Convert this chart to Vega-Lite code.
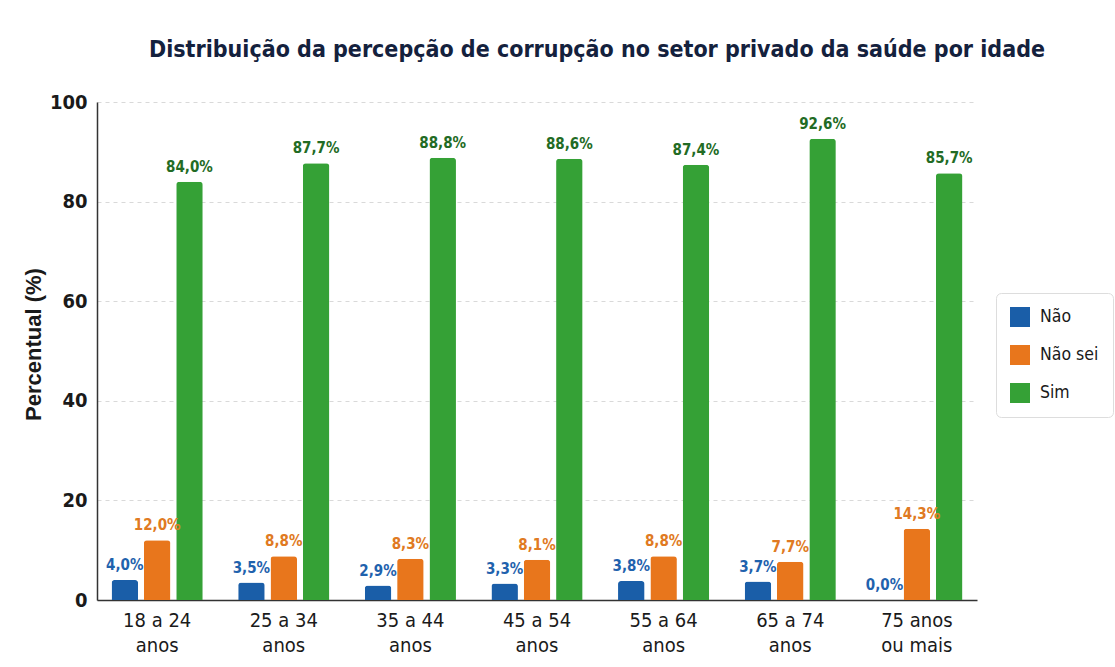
{
  "$schema": "https://vega.github.io/schema/vega-lite/v6.json",
  "width": 880,
  "height": 498,
  "autosize": {"type": "none"},
  "padding": {"left": 97, "top": 102, "right": 138, "bottom": 67},
  "background": "#ffffff",
  "title": {
    "text": "Distribuição da percepção de corrupção no setor privado da saúde por idade",
    "fontSize": 23,
    "font": "DejaVu Sans Condensed, Roboto, sans-serif",
    "fontWeight": "bold",
    "color": "#14213d",
    "anchor": "middle",
    "dx": 60,
    "offset": 30
  },
  "data": {
    "values": [
      {"idade": "18 a 24 anos", "resposta": "Não", "pct": 4.0},
      {"idade": "18 a 24 anos", "resposta": "Não sei", "pct": 12.0},
      {"idade": "18 a 24 anos", "resposta": "Sim", "pct": 84.0},
      {"idade": "25 a 34 anos", "resposta": "Não", "pct": 3.5},
      {"idade": "25 a 34 anos", "resposta": "Não sei", "pct": 8.8},
      {"idade": "25 a 34 anos", "resposta": "Sim", "pct": 87.7},
      {"idade": "35 a 44 anos", "resposta": "Não", "pct": 2.9},
      {"idade": "35 a 44 anos", "resposta": "Não sei", "pct": 8.3},
      {"idade": "35 a 44 anos", "resposta": "Sim", "pct": 88.8},
      {"idade": "45 a 54 anos", "resposta": "Não", "pct": 3.3},
      {"idade": "45 a 54 anos", "resposta": "Não sei", "pct": 8.1},
      {"idade": "45 a 54 anos", "resposta": "Sim", "pct": 88.6},
      {"idade": "55 a 64 anos", "resposta": "Não", "pct": 3.8},
      {"idade": "55 a 64 anos", "resposta": "Não sei", "pct": 8.8},
      {"idade": "55 a 64 anos", "resposta": "Sim", "pct": 87.4},
      {"idade": "65 a 74 anos", "resposta": "Não", "pct": 3.7},
      {"idade": "65 a 74 anos", "resposta": "Não sei", "pct": 7.7},
      {"idade": "65 a 74 anos", "resposta": "Sim", "pct": 92.6},
      {"idade": "75 anos ou mais", "resposta": "Não", "pct": 0.0},
      {"idade": "75 anos ou mais", "resposta": "Não sei", "pct": 14.3},
      {"idade": "75 anos ou mais", "resposta": "Sim", "pct": 85.7}
    ]
  },
  "transform": [
    {"calculate": "replace(format(datum.pct, '.1f'), '.', ',') + '%'", "as": "rotulo"}
  ],
  "encoding": {
    "x": {
      "field": "idade",
      "type": "nominal",
      "sort": null,
      "scale": {"paddingInner": 0.28, "paddingOuter": 0.115},
      "axis": {
        "title": null,
        "labelAngle": 0,
        "labelFontSize": 20,
        "labelFont": "DejaVu Sans Condensed, Roboto, sans-serif",
        "labelColor": "#1a1a1a",
        "labelPadding": 10,
        "labelLineHeight": 25,
        "labelBaseline": "top",
        "ticks": false,
        "domainColor": "#333333",
        "domainWidth": 1.5,
        "labelExpr": "datum.label == '75 anos ou mais' ? ['75 anos', 'ou mais'] : [slice(datum.label, 0, 7), 'anos']"
      }
    },
    "xOffset": {
      "field": "resposta",
      "type": "nominal",
      "scale": {"paddingInner": 0.18}
    },
    "y": {
      "field": "pct",
      "type": "quantitative",
      "scale": {"domain": [0, 100], "nice": false},
      "axis": {
        "title": "Percentual (%)",
        "titleFontSize": 22,
        "titleFont": "Liberation Sans",
        "titleFontWeight": "bold",
        "titleColor": "#1a1a1a",
        "titlePadding": 4,
        "titleY": 242,
        "values": [0, 20, 40, 60, 80, 100],
        "labelFontSize": 20,
        "labelFont": "DejaVu Sans Condensed, Roboto, sans-serif",
        "labelFontWeight": "bold",
        "labelColor": "#1a1a1a",
        "labelPadding": 10,
        "ticks": false,
        "domainColor": "#333333",
        "domainWidth": 1.5,
        "grid": true,
        "gridColor": "#d9d9d9",
        "gridDash": [4, 4],
        "gridWidth": 1
      }
    }
  },
  "layer": [
    {
      "mark": {"type": "bar", "cornerRadiusTopLeft": 3, "cornerRadiusTopRight": 3},
      "encoding": {
        "color": {
          "field": "resposta",
          "type": "nominal",
          "scale": {"domain": ["Não", "Não sei", "Sim"], "range": ["#1a5ea8", "#e8761c", "#35a136"]},
          "legend": {
            "title": null,
            "orient": "none",
            "legendX": 899,
            "legendY": 191,
            "symbolType": "square",
            "symbolSize": 400,
            "symbolStrokeWidth": 0,
            "labelFontSize": 17.5,
            "labelFont": "DejaVu Sans Condensed, Roboto, sans-serif",
            "labelColor": "#1a1a1a",
            "labelOffset": 10,
            "rowPadding": 18,
            "padding": 14,
            "strokeColor": "#dddddd",
            "fillColor": "#ffffff",
            "cornerRadius": 5
          }
        }
      }
    },
    {
      "mark": {"type": "text", "baseline": "bottom", "dy": -7, "fontSize": 15, "fontWeight": "bold", "font": "DejaVu Sans Condensed, Roboto, sans-serif"},
      "encoding": {
        "text": {"field": "rotulo"},
        "color": {
          "field": "resposta",
          "type": "nominal",
          "scale": {"domain": ["Não", "Não sei", "Sim"], "range": ["#1f62ad", "#e07a22", "#226b24"]},
          "legend": null
        }
      }
    }
  ],
  "resolve": {"scale": {"color": "independent"}},
  "config": {"view": {"stroke": null}}
}
